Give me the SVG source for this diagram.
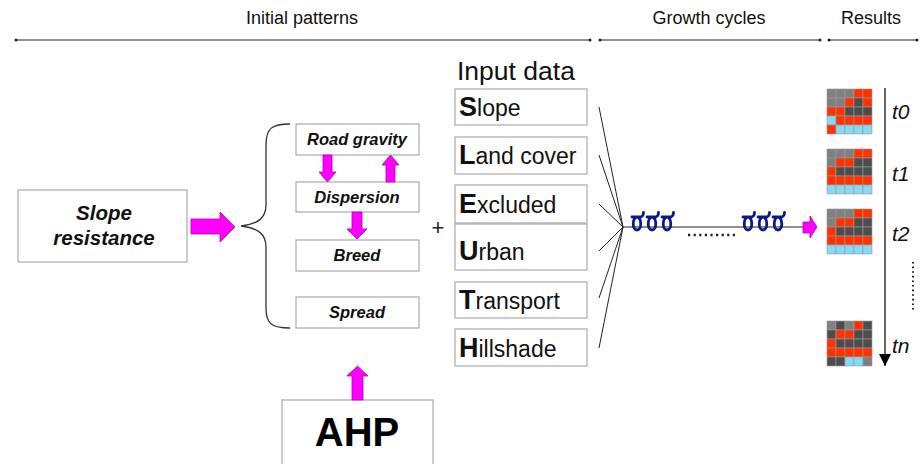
<svg xmlns="http://www.w3.org/2000/svg" xmlns:xlink="http://www.w3.org/1999/xlink" width="924" height="464" viewBox="0 0 924 464">
  <style>
    .hdr { font-family: "Liberation Sans", Arial, sans-serif; font-size: 18px; fill: #111; text-anchor: middle; }
    .rule { stroke: #222; stroke-width: 1.2; fill: none; }
    .box { fill: #fff; stroke: #aaa; stroke-width: 1.2; }
    .step { font-family: "Liberation Sans", Arial, sans-serif; font-size: 16.5px; font-weight: bold; font-style: italic; fill: #111; text-anchor: middle; }
    .big { font-size: 20.5px; }
    .inp { font-family: "Liberation Sans", Arial, sans-serif; font-size: 23px; fill: #111; }
    .inp tspan.cap { font-weight: bold; font-size: 27px; }
    .mag { fill: #ff00ff; stroke: #b000b0; stroke-width: 0.8; }
    .fan { stroke: #222; stroke-width: 1; fill: none; }
    .tl { font-family: "Liberation Sans", Arial, sans-serif; font-size: 21px; font-style: italic; fill: #111; }
    .g { fill: #808080; } .d { fill: #4d4d4d; } .r { fill: #ff3300; } .b { fill: #86d8f4; }
    .grid rect { stroke: #9a9a9a; stroke-width: 0.6; }
    .cyc { fill: none; stroke: #0a1a8c; stroke-width: 2.8; stroke-linecap: round; }
  </style>
  <defs>
    <!-- one growth cycle: bar with a hanging loop and a rising tail -->
    <g id="cycle">
      <path class="cyc" d="M-5,-6 H4 M3,-6 C5.5,-6 6.5,-8.5 6.5,-10.5 M0,-6 C-5,-4.5 -5,7 0,7 C5,7 5,-4.5 0,-6"/>
    </g>
    <marker id="tip" viewBox="0 0 10 10" refX="10" refY="5" markerWidth="12" markerHeight="12" markerUnits="userSpaceOnUse" orient="auto">
      <path d="M0,0 L10,5 L0,10 Z" fill="#000"/>
    </marker>
  </defs>

  <!-- section headings -->
  <g id="headings">
    <text class="hdr" x="302" y="24">Initial patterns</text>
    <text class="hdr" x="709" y="24">Growth cycles</text>
    <text class="hdr" x="871" y="24">Results</text>
    <path class="rule" d="M16,40 H590 M600,40 H820 M829,40 H917"/>
    <g fill="#222">
      <circle cx="16" cy="40" r="1.5"/><circle cx="590" cy="40" r="1.5"/>
      <circle cx="600" cy="40" r="1.5"/><circle cx="820" cy="40" r="1.5"/>
      <circle cx="829" cy="40" r="1.5"/><circle cx="917" cy="40" r="1.5"/>
    </g>
  </g>

  <g id="slope-resistance">
    <rect class="box" x="18" y="190" width="169" height="72"/>
    <text class="step big" x="104" y="220">Slope</text>
    <text class="step big" x="104" y="245">resistance</text>
  </g>

  <g id="road-gravity">
    <rect class="box" x="296" y="124" width="123" height="31"/>
    <text class="step" x="357" y="145">Road gravity</text>
  </g>
  <g id="dispersion">
    <rect class="box" x="296" y="182" width="123" height="30"/>
    <text class="step" x="357" y="203">Dispersion</text>
  </g>
  <g id="breed">
    <rect class="box" x="296" y="240" width="123" height="31"/>
    <text class="step" x="357" y="261">Breed</text>
  </g>
  <g id="spread">
    <rect class="box" x="296" y="297" width="123" height="31"/>
    <text class="step" x="357" y="318">Spread</text>
  </g>

  <g id="ahp">
    <rect class="box" x="282" y="400" width="151" height="70"/>
    <text x="357" y="446" font-family="Liberation Sans, Arial, sans-serif" font-size="40" font-weight="bold" fill="#000" text-anchor="middle">AHP</text>
  </g>

  <g id="plus">
    <text x="438" y="235" font-family="Liberation Sans, Arial, sans-serif" font-size="22" fill="#222" text-anchor="middle">+</text>
  </g>

  <g id="input-data">
    <text x="457" y="80" font-family="Liberation Sans, Arial, sans-serif" font-size="26.5" fill="#111">Input data</text>
    <g id="in-slope">
      <rect class="box" x="455" y="89" width="132" height="36"/>
      <text class="inp" x="459" y="116"><tspan class="cap">S</tspan>lope</text>
    </g>
    <g id="in-landcover">
      <rect class="box" x="455" y="137" width="132" height="37"/>
      <text class="inp" x="459" y="164"><tspan class="cap">L</tspan>and cover</text>
    </g>
    <g id="in-excluded">
      <rect class="box" x="455" y="185" width="132" height="38"/>
      <text class="inp" x="459" y="213"><tspan class="cap">E</tspan>xcluded</text>
    </g>
    <g id="in-urban">
      <rect class="box" x="455" y="224" width="132" height="46"/>
      <text class="inp" x="459" y="260"><tspan class="cap">U</tspan>rban</text>
    </g>
    <g id="in-transport">
      <rect class="box" x="455" y="282" width="132" height="36"/>
      <text class="inp" x="459" y="309"><tspan class="cap">T</tspan>ransport</text>
    </g>
    <g id="in-hillshade">
      <rect class="box" x="455" y="329" width="132" height="37"/>
      <text class="inp" x="459" y="357"><tspan class="cap">H</tspan>illshade</text>
    </g>
  </g>

  <!-- growth cycle chain -->
  <g id="growth-cycles">
    <use xlink:href="#cycle" x="637" y="223"/>
    <use xlink:href="#cycle" x="652" y="223"/>
    <use xlink:href="#cycle" x="667" y="223"/>
    <use xlink:href="#cycle" x="748" y="223"/>
    <use xlink:href="#cycle" x="763" y="223"/>
    <use xlink:href="#cycle" x="778" y="223"/>
    <path d="M688,235 H738" stroke="#222" stroke-width="2.4" stroke-dasharray="2.2 3.4" fill="none"/>
  </g>

  <!-- results grids -->
  <g id="result-t0" class="grid" transform="translate(827,89)">
    <rect class="g" x="0" y="0" width="9" height="9"/><rect class="g" x="9" y="0" width="9" height="9"/><rect class="g" x="18" y="0" width="9" height="9"/><rect class="r" x="27" y="0" width="9" height="9"/><rect class="r" x="36" y="0" width="9" height="9"/>
    <rect class="g" x="0" y="9" width="9" height="9"/><rect class="g" x="9" y="9" width="9" height="9"/><rect class="r" x="18" y="9" width="9" height="9"/><rect class="d" x="27" y="9" width="9" height="9"/><rect class="r" x="36" y="9" width="9" height="9"/>
    <rect class="r" x="0" y="18" width="9" height="9"/><rect class="r" x="9" y="18" width="9" height="9"/><rect class="d" x="18" y="18" width="9" height="9"/><rect class="d" x="27" y="18" width="9" height="9"/><rect class="d" x="36" y="18" width="9" height="9"/>
    <rect class="b" x="0" y="27" width="9" height="9"/><rect class="r" x="9" y="27" width="9" height="9"/><rect class="r" x="18" y="27" width="9" height="9"/><rect class="r" x="27" y="27" width="9" height="9"/><rect class="r" x="36" y="27" width="9" height="9"/>
    <rect class="r" x="0" y="36" width="9" height="9"/><rect class="b" x="9" y="36" width="9" height="9"/><rect class="b" x="18" y="36" width="9" height="9"/><rect class="b" x="27" y="36" width="9" height="9"/><rect class="b" x="36" y="36" width="9" height="9"/>
  </g>
  <g id="result-t1" class="grid" transform="translate(827,149)">
    <rect class="g" x="0" y="0" width="9" height="9"/><rect class="g" x="9" y="0" width="9" height="9"/><rect class="g" x="18" y="0" width="9" height="9"/><rect class="r" x="27" y="0" width="9" height="9"/><rect class="r" x="36" y="0" width="9" height="9"/>
    <rect class="g" x="0" y="9" width="9" height="9"/><rect class="r" x="9" y="9" width="9" height="9"/><rect class="r" x="18" y="9" width="9" height="9"/><rect class="d" x="27" y="9" width="9" height="9"/><rect class="d" x="36" y="9" width="9" height="9"/>
    <rect class="r" x="0" y="18" width="9" height="9"/><rect class="d" x="9" y="18" width="9" height="9"/><rect class="d" x="18" y="18" width="9" height="9"/><rect class="d" x="27" y="18" width="9" height="9"/><rect class="d" x="36" y="18" width="9" height="9"/>
    <rect class="r" x="0" y="27" width="9" height="9"/><rect class="r" x="9" y="27" width="9" height="9"/><rect class="r" x="18" y="27" width="9" height="9"/><rect class="r" x="27" y="27" width="9" height="9"/><rect class="r" x="36" y="27" width="9" height="9"/>
    <rect class="b" x="0" y="36" width="9" height="9"/><rect class="b" x="9" y="36" width="9" height="9"/><rect class="b" x="18" y="36" width="9" height="9"/><rect class="b" x="27" y="36" width="9" height="9"/><rect class="b" x="36" y="36" width="9" height="9"/>
  </g>
  <g id="result-t2" class="grid" transform="translate(827,209)">
    <rect class="g" x="0" y="0" width="9" height="9"/><rect class="g" x="9" y="0" width="9" height="9"/><rect class="g" x="18" y="0" width="9" height="9"/><rect class="r" x="27" y="0" width="9" height="9"/><rect class="r" x="36" y="0" width="9" height="9"/>
    <rect class="g" x="0" y="9" width="9" height="9"/><rect class="r" x="9" y="9" width="9" height="9"/><rect class="r" x="18" y="9" width="9" height="9"/><rect class="d" x="27" y="9" width="9" height="9"/><rect class="d" x="36" y="9" width="9" height="9"/>
    <rect class="r" x="0" y="18" width="9" height="9"/><rect class="d" x="9" y="18" width="9" height="9"/><rect class="d" x="18" y="18" width="9" height="9"/><rect class="d" x="27" y="18" width="9" height="9"/><rect class="d" x="36" y="18" width="9" height="9"/>
    <rect class="r" x="0" y="27" width="9" height="9"/><rect class="r" x="9" y="27" width="9" height="9"/><rect class="r" x="18" y="27" width="9" height="9"/><rect class="r" x="27" y="27" width="9" height="9"/><rect class="r" x="36" y="27" width="9" height="9"/>
    <rect class="b" x="0" y="36" width="9" height="9"/><rect class="b" x="9" y="36" width="9" height="9"/><rect class="b" x="18" y="36" width="9" height="9"/><rect class="b" x="27" y="36" width="9" height="9"/><rect class="b" x="36" y="36" width="9" height="9"/>
  </g>
  <g id="result-tn" class="grid" transform="translate(827,321)">
    <rect class="g" x="0" y="0" width="9" height="9"/><rect class="d" x="9" y="0" width="9" height="9"/><rect class="g" x="18" y="0" width="9" height="9"/><rect class="r" x="27" y="0" width="9" height="9"/><rect class="d" x="36" y="0" width="9" height="9"/>
    <rect class="d" x="0" y="9" width="9" height="9"/><rect class="r" x="9" y="9" width="9" height="9"/><rect class="r" x="18" y="9" width="9" height="9"/><rect class="d" x="27" y="9" width="9" height="9"/><rect class="d" x="36" y="9" width="9" height="9"/>
    <rect class="r" x="0" y="18" width="9" height="9"/><rect class="d" x="9" y="18" width="9" height="9"/><rect class="d" x="18" y="18" width="9" height="9"/><rect class="d" x="27" y="18" width="9" height="9"/><rect class="d" x="36" y="18" width="9" height="9"/>
    <rect class="r" x="0" y="27" width="9" height="9"/><rect class="r" x="9" y="27" width="9" height="9"/><rect class="r" x="18" y="27" width="9" height="9"/><rect class="r" x="27" y="27" width="9" height="9"/><rect class="r" x="36" y="27" width="9" height="9"/>
    <rect class="d" x="0" y="36" width="9" height="9"/><rect class="d" x="9" y="36" width="9" height="9"/><rect class="b" x="18" y="36" width="9" height="9"/><rect class="b" x="27" y="36" width="9" height="9"/><rect class="g" x="36" y="36" width="9" height="9"/>
  </g>

  <g id="time-labels">
    <text class="tl" x="892" y="119">t0</text>
    <text class="tl" x="892" y="181">t1</text>
    <text class="tl" x="892" y="241">t2</text>
    <text class="tl" x="892" y="353">tn</text>
    <path d="M913,262 V312" stroke="#222" stroke-width="2" stroke-dasharray="1.6 3" fill="none"/>
  </g>

  <!-- connectors -->
  <g id="connectors">
    <!-- brace grouping the four process steps -->
    <path d="M290,124 C272,124 266,128 266,145 L266,205 C266,218 258,224 241,226 C258,228 266,234 266,247 L266,308 C266,324 272,328 290,328" fill="none" stroke="#333" stroke-width="1.3"/>
    <!-- slope resistance into the steps -->
    <path class="mag" d="M191,219 H220 V212 L235,227 L220,242 V234 H191 Z"/>
    <!-- Road gravity / Dispersion / Breed exchanges -->
    <path class="mag" d="M323,155 H332 V172 H336 L327.5,182 L319,172 H323 Z"/>
    <path class="mag" d="M386,182 V165 H382 L390.5,155 L399,165 H395 V182 Z"/>
    <path class="mag" d="M352,212 H362 V229 H367 L357,239 L347,229 H352 Z"/>
    <!-- AHP feeding the steps -->
    <path class="mag" d="M352,400 V376 H347 L357.5,366 L368,376 H363 V400 Z"/>
    <!-- input layers converging on the growth cycle -->
    <path class="fan" d="M599,107 L623,227 M599,155 L623,227 M599,204 L623,227 M599,251 L623,227 M599,298 L623,227 M599,348 L623,227"/>
    <path d="M623,227 H804" stroke="#222" stroke-width="1.2" fill="none"/>
    <path class="mag" d="M803,222 H810 V216 L817,227 L810,238 V233 H803 Z"/>
    <!-- time axis -->
    <path d="M885,88 V366" stroke="#111" stroke-width="1.3" fill="none" marker-end="url(#tip)"/>
  </g>
</svg>
